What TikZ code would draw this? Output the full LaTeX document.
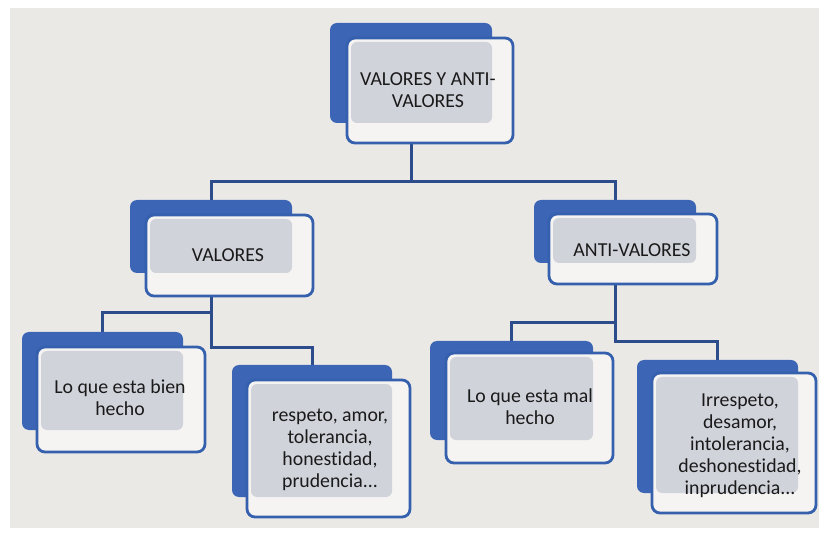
\documentclass[tikz,border=0pt]{standalone}
\usepackage{fontspec}
\setmainfont[Ligatures={NoCommon}]{Carlito}
\usetikzlibrary{backgrounds}
\definecolor{bfill}{HTML}{3C66B5}
\definecolor{bline}{HTML}{3560AD}
\definecolor{ofill}{HTML}{F5F4F2}
\definecolor{gfill}{HTML}{D1D3DB}
\definecolor{bgc}{HTML}{EBE9E5}
\definecolor{ccol}{HTML}{2D4C8C}
\definecolor{tcol}{HTML}{1A1A1A}
\newcommand\mkbox[9]{%
  \node[bluebox, minimum width=#4, minimum height=#5] (#1b) at (#2,#3) {};
  \node[outbox, minimum width=#8, minimum height=#9] (#1o) at (#6,#7) {};
  \node[graybox, minimum width={#2+#4-#6-4}, minimum height={#3+#5-#7-4}] (#1g) at ({#6+4},{#7+4}) {};
}
\begin{document}
\begin{tikzpicture}[x=1pt,y=-1pt,
  bluebox/.style={fill=bfill, rounded corners=7pt, inner sep=0, outer sep=0, anchor=north west},
  outbox/.style={draw=bline, line width=2.8pt, fill=ofill, rounded corners=8pt, inner sep=0, outer sep=0, anchor=north west},
  graybox/.style={fill=gfill, rounded corners=6pt, inner sep=0, outer sep=0, anchor=north west},
  lbl/.style={font=\fontsize{19.8}{22}\selectfont, text=tcol, align=center, inner sep=0},
  conn/.style={draw=ccol, line width=3pt}]
\useasboundingbox (0,0) rectangle (819,534);

\mkbox{top}{330}{23}{162}{100}{347}{38}{166}{105}
\mkbox{val}{130}{200}{162}{73}{146}{215}{167}{81}
\mkbox{ant}{534}{200}{162}{63}{549}{214}{168}{70}
\mkbox{bien}{22}{332}{161}{98}{37}{347}{168}{105}
\mkbox{resp}{232}{365}{160}{132}{247}{380}{163}{137}
\mkbox{mal}{430}{341}{163}{99}{446}{353}{167}{110}
\mkbox{irr}{637}{360}{161}{133}{652}{373}{164}{140}

\node[lbl] (toptxt) at (428,90) {VALORES Y ANTI-\\VALORES};
\node[lbl] (valtxt) at (228,255) {VALORES};
\node[lbl] (anttxt) at (632,250) {ANTI-VALORES};
\node[lbl] (bientxt) at (120,398) {Lo que esta bien\\hecho};
\node[lbl] (resptxt) at (330,450) {respeto, amor,\\tolerancia,\\honestidad,\\prudencia...};
\node[lbl] (maltxt) at (530,407) {Lo que esta mal\\hecho};
\node[lbl] (irrtxt) at (740,446) {Irrespeto,\\desamor,\\intolerancia,\\deshonestidad,\\inprudencia...};

\begin{scope}[on background layer]
  \fill[white] (0,0) rectangle (819,534);
  \fill[bgc] (10,8) rectangle (819,528);
  \draw[conn] (topb |- topo.south) -- ++(0,39) -| (valb.north);
  \draw[conn] (topb |- topo.south) -- ++(0,39) -| (antb.north);
  \draw[conn] (valb |- valo.south) -- ++(0,17) -| (bienb.north);
  \draw[conn] (valb |- valo.south) -- ++(0,52) -| (respb.north);
  \draw[conn] (antb |- anto.south) -- ++(0,39) -| (malb.north);
  \draw[conn] (antb |- anto.south) -- ++(0,58) -| (irrb.north);
\end{scope}
\end{tikzpicture}
\end{document}
